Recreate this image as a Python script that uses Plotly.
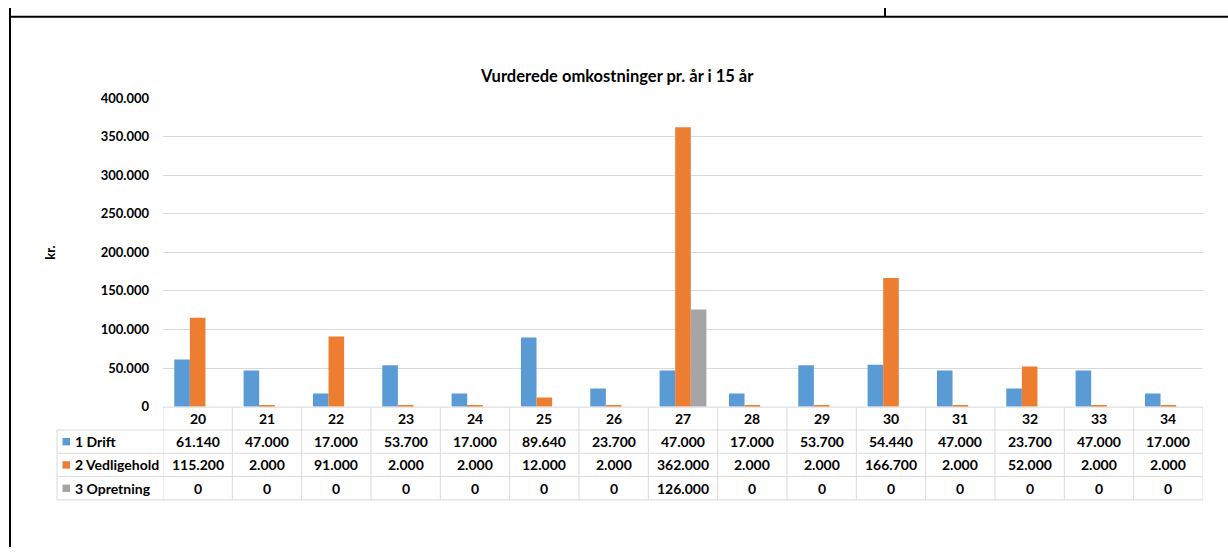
import plotly.graph_objects as go

# Yearly cost estimates (kr.) over 15 years
years = ["20", "21", "22", "23", "24", "25", "26", "27", "28", "29", "30", "31", "32", "33", "34"]
drift = [61140, 47000, 17000, 53700, 17000, 89640, 23700, 47000, 17000, 53700, 54440, 47000, 23700, 47000, 17000]
vedligehold = [115200, 2000, 91000, 2000, 2000, 12000, 2000, 362000, 2000, 2000, 166700, 2000, 52000, 2000, 2000]
opretning = [0, 0, 0, 0, 0, 0, 0, 126000, 0, 0, 0, 0, 0, 0, 0]

series_names = ["1 Drift", "2 Vedligehold", "3 Opretning"]
series_values = [drift, vedligehold, opretning]
series_colors = ["#5B9BD5", "#ED7D31", "#A5A5A5"]

W, H = 1228, 555
FONT = "Lato"
GRID = "#D9D9D9"
TEXT = "#000000"


def px_x(x):
    """pixel x -> paper coordinate"""
    return x / W


def px_y(y):
    """pixel y (from top) -> paper coordinate"""
    return 1 - y / H


def fmt(v):
    return f"{v:,}".replace(",", ".")


# plot area in pixels
PL, PR, PT, PB = 163, 1203, 92.7, 410.5
# data table horizontal rules (pixel y)
row_lines = [411, 434.5, 458.5, 482.5, 506.5]
row_label_left = 57

fig = go.Figure()
for name, vals, col in zip(series_names, series_values, series_colors):
    fig.add_trace(go.Bar(x=years, y=vals, name=name, marker=dict(color=col, line=dict(width=0))))

shapes = []
annotations = []

# data table: vertical rules at category boundaries
for i in range(len(years) + 1):
    shapes.append(dict(type="line", xref="x", yref="paper", x0=i - 0.5, x1=i - 0.5,
                       y0=px_y(row_lines[0]), y1=px_y(row_lines[-1]),
                       line=dict(color=GRID, width=1)))
# left column with the series names
shapes.append(dict(type="line", xref="paper", yref="paper", x0=px_x(row_label_left), x1=px_x(row_label_left),
                   y0=px_y(row_lines[1]), y1=px_y(row_lines[-1]), line=dict(color=GRID, width=1)))
# horizontal rules
shapes.append(dict(type="line", xref="paper", yref="paper", x0=px_x(PL), x1=px_x(PR),
                   y0=px_y(row_lines[0]), y1=px_y(row_lines[0]), line=dict(color=GRID, width=1)))
for yl in row_lines[1:]:
    shapes.append(dict(type="line", xref="paper", yref="paper", x0=px_x(row_label_left), x1=px_x(PR),
                       y0=px_y(yl), y1=px_y(yl), line=dict(color=GRID, width=1)))

cell_font = dict(family=FONT, size=14, color=TEXT, weight="bold")

# header row with the years (x given as category index)
yc = (row_lines[0] + row_lines[1]) / 2
for i, yr in enumerate(years):
    annotations.append(dict(x=i, y=px_y(yc), xref="x", yref="paper", text=yr, showarrow=False,
                            xanchor="center", yanchor="middle", font=cell_font))

# value rows with legend keys
for r, (name, vals, col) in enumerate(zip(series_names, series_values, series_colors)):
    yc = (row_lines[r + 1] + row_lines[r + 2]) / 2
    shapes.append(dict(type="rect", xref="paper", yref="paper",
                       x0=px_x(62.5), x1=px_x(70), y0=px_y(yc + 3.8), y1=px_y(yc - 3.8),
                       fillcolor=col, line=dict(width=0)))
    annotations.append(dict(x=px_x(73), y=px_y(yc), xref="paper", yref="paper", text=name,
                            showarrow=False, xanchor="left", yanchor="middle", font=cell_font))
    for i, v in enumerate(vals):
        annotations.append(dict(x=i, y=px_y(yc), xref="x", yref="paper", text=fmt(v), showarrow=False,
                                xanchor="center", yanchor="middle", font=cell_font))

# chart title and axis title
annotations.append(dict(x=px_x(617), y=px_y(70), xref="paper", yref="paper",
                        text="Vurderede omkostninger pr. år i 15 år", showarrow=False,
                        xanchor="center", yanchor="middle",
                        font=dict(family=FONT, size=16.5, color=TEXT, weight="bold")))
annotations.append(dict(x=px_x(50), y=px_y(252), xref="paper", yref="paper", text="kr.",
                        showarrow=False, textangle=-90, xanchor="center", yanchor="middle",
                        font=dict(family=FONT, size=13, color=TEXT, weight="bold")))

# document frame lines
frame = dict(color="#000000", width=2)
shapes.append(dict(type="line", xref="paper", yref="paper", x0=px_x(10), x1=px_x(10),
                   y0=px_y(0), y1=px_y(H), line=frame))
shapes.append(dict(type="line", xref="paper", yref="paper", x0=px_x(9), x1=px_x(W),
                   y0=px_y(9), y1=px_y(9), line=frame))
shapes.append(dict(type="line", xref="paper", yref="paper", x0=px_x(885), x1=px_x(885),
                   y0=px_y(0), y1=px_y(9), line=frame))

fig.update_layout(
    width=W, height=H, autosize=False,
    margin=dict(l=0, r=0, t=0, b=0),
    paper_bgcolor="white", plot_bgcolor="white",
    separators=",.",
    barmode="group", bargap=0.325, bargroupgap=0,
    showlegend=False,
    font=dict(family=FONT, color=TEXT),
    xaxis=dict(type="category", domain=[px_x(PL), px_x(PR)], range=[-0.5, len(years) - 0.5],
               showticklabels=False, showgrid=False, zeroline=False, showline=False, ticks=""),
    yaxis=dict(domain=[px_y(PB), px_y(PT)], range=[0, 400000], dtick=50000,
               tickformat=",d", showgrid=True, gridcolor=GRID, gridwidth=1,
               zeroline=False, showline=False, ticks="", ticklabelstandoff=13,
               tickfont=dict(family=FONT, size=13, color=TEXT, weight="bold")),
    shapes=shapes,
    annotations=annotations,
)

fig.write_html("out.html")
